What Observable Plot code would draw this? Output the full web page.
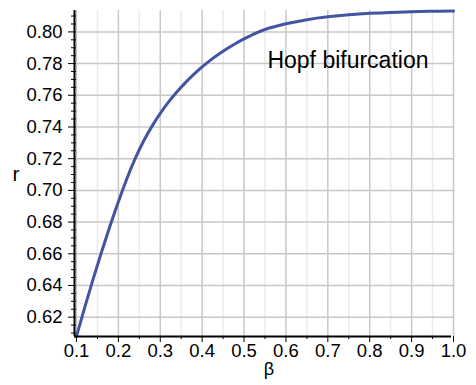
<!DOCTYPE html>
<html>
<head>
<meta charset="utf-8">
<script src="https://cdn.jsdelivr.net/npm/d3@7"></script>
<script src="https://cdn.jsdelivr.net/npm/@observablehq/plot@0.6"></script>
<style>
  html, body { margin: 0; padding: 0; background: #fff; }
  #chart svg { display: block; }
</style>
</head>
<body>
<div id="chart"></div>
<script>
// Data
const beta = [0.10, 0.12, 0.14, 0.16, 0.18, 0.20, 0.22, 0.24, 0.26, 0.28, 0.30, 0.32, 0.34, 0.36, 0.38, 0.40,
              0.42, 0.44, 0.46, 0.48, 0.50, 0.52, 0.55, 0.60, 0.65, 0.70, 0.75, 0.80, 0.85, 0.90, 0.95, 1.00];
const r    = [0.6080, 0.6265, 0.6443, 0.6613, 0.6775, 0.6929, 0.7072, 0.7200, 0.7310, 0.7404, 0.7486, 0.7558,
              0.7622, 0.7680, 0.7732, 0.7779, 0.7822, 0.7860, 0.7895, 0.7927, 0.7956, 0.7982, 0.8015, 0.8051,
              0.8077, 0.8095, 0.8108, 0.8117, 0.8123, 0.8127, 0.8130, 0.8132];
const xDomain = [0.1, 1.0];
const yDomain = [0.6078, 0.8135];
const xTicks = [0.1, 0.2, 0.3, 0.4, 0.5, 0.6, 0.7, 0.8, 0.9, 1.0];
const xMinorTicks = [0.15, 0.25, 0.35, 0.45, 0.55, 0.65, 0.75, 0.85, 0.95];
const yTicks = [0.62, 0.64, 0.66, 0.68, 0.70, 0.72, 0.74, 0.76, 0.78, 0.80];
const yMinorTicks = [0.610, 0.615, 0.625, 0.630, 0.635, 0.645, 0.650, 0.655, 0.665, 0.670, 0.675, 0.685, 0.690, 0.695,
                     0.705, 0.710, 0.715, 0.725, 0.730, 0.735, 0.745, 0.750, 0.755, 0.765, 0.770, 0.775, 0.785, 0.790, 0.795,
                     0.805, 0.810];
const xLabel = "β";
const yLabel = "r";
const annotation = ["Hopf bifurcation"];

const data = beta.map((b, i) => ({beta: b, r: r[i]}));
const font = "'Liberation Sans', Arial, Helvetica, sans-serif";

const chart = Plot.plot({
  width: 476,
  height: 385,
  marginLeft: 76,
  marginRight: 23,
  marginTop: 10,
  marginBottom: 49,
  style: {fontFamily: font, background: "#fff", color: "#000"},
  x: {domain: xDomain, axis: null},
  y: {domain: yDomain, axis: null},
  marks: [
    Plot.ruleX(xMinorTicks, {stroke: "#ebebeb", strokeWidth: 1.5}),
    Plot.ruleX(xTicks, {stroke: "#c8c8c8", strokeWidth: 1.5}),
    Plot.ruleY(yTicks, {stroke: "#c8c8c8", strokeWidth: 1.5}),
    Plot.line(data, {x: "beta", y: "r", stroke: "#4354a3", strokeWidth: 3, curve: "natural"}),
    // axis lines
    Plot.ruleX([xDomain[0]], {dx: -2, stroke: "#000", strokeWidth: 2}),
    Plot.ruleY([yDomain[0]], {x1: xDomain[0], x2: xDomain[1], dx: -2, stroke: "#000", strokeWidth: 2}),
    // tick marks
    Plot.axisX(xTicks, {tickSize: 6, tickFormat: () => "", label: null}),
    Plot.axisX(xMinorTicks, {tickSize: 3, tickFormat: () => "", label: null}),
    Plot.axisY(yTicks, {tickSize: 8, tickFormat: () => "", label: null}),
    Plot.axisY(yMinorTicks, {tickSize: 5, tickFormat: () => "", label: null}),
    // tick labels
    Plot.text(xTicks, {x: d => d, frameAnchor: "bottom", dy: 20, fontSize: 18.5, text: d => d.toFixed(1), fill: "#000"}),
    Plot.text(yTicks, {y: d => d, frameAnchor: "left", dx: -14, textAnchor: "end", fontSize: 18.5, text: d => d.toFixed(2), fill: "#000"}),
    // axis labels
    Plot.text([xLabel], {frameAnchor: "bottom", dx: 4, dy: 38, fontSize: 18, text: d => d}),
    Plot.text([yLabel], {frameAnchor: "left", dx: -64, dy: 1, fontSize: 21, text: d => d}),
    // annotation
    Plot.text(annotation, {frameAnchor: "top-right", dx: -25, dy: 41, textAnchor: "end", fontSize: 23, text: d => d})
  ]
});
document.getElementById("chart").appendChild(chart);
</script>
</body>
</html>
